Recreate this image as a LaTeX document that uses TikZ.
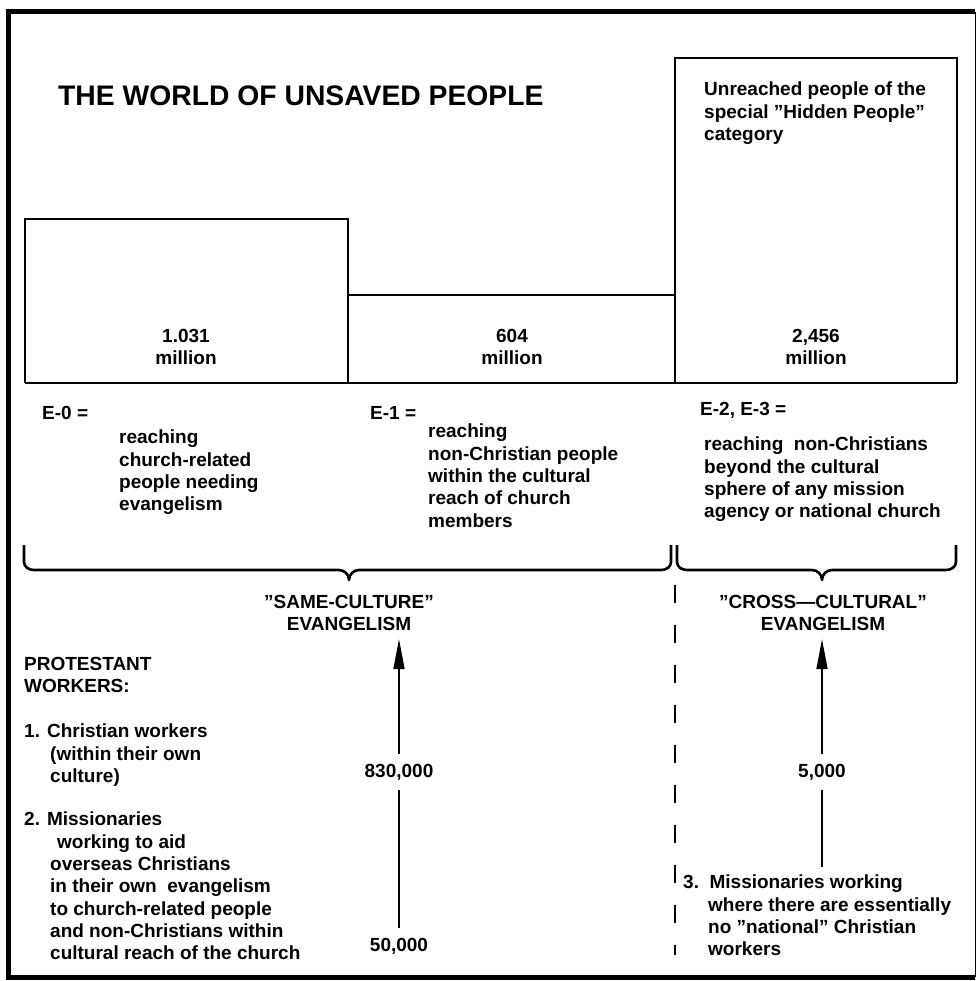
\documentclass[tikz,border=0pt]{standalone}
\usepackage{fontspec}
\setmainfont{Liberation Sans}
\usetikzlibrary{arrows.meta,positioning}

\begin{document}
\begin{tikzpicture}[
    x=1pt, y=-1pt,
    frame/.style={line width=5pt},
    bar/.style={line width=2.6pt},
    txt/.style={font=\fontsize{19}{22.3}\selectfont\bfseries, inner sep=0pt, align=left},
    num/.style={txt, align=center},
    brace/.style={line width=2.6pt, line join=round},
    upline/.style={line width=1.6pt, -{Triangle[length=30pt,width=11pt]}},
    plainline/.style={line width=1.6pt},
    divider/.style={line width=2pt, dash pattern=on 18pt off 22pt}
]
\useasboundingbox (0,0) rectangle (978,981);

% outer frame
\draw[frame] (975,12) -- (8,12) -- (8,977) -- (975,977);
\draw[line width=1pt] (975,12) -- (975,977);

% title
\node[txt, font=\fontsize{28.3}{32}\selectfont\bfseries, anchor=west] (title) at (58,96) {THE WORLD OF UNSAVED PEOPLE};

% population bars
\draw[bar] (25,383) -- (25,219) -- (348,219) -- (348,383);
\draw[bar] (348,295) -- (675,295);
\draw[bar] (675,383) -- (675,58) -- (957,58) -- (957,383);
\draw[bar] (25,383) -- (957,383);

\node[txt, anchor=north west] (hidden) at (704,82) {Unreached people of the\\special ''Hidden People''\\category};

\node[num] (pop0) at (186,347) {1.031\\million};
\node[num] (pop1) at (512,347) {604\\million};
\node[num] (pop2) at (816,347) {2,456\\million};

% kinds of evangelism
\node[txt, anchor=west] (e0) at (42,413) {E-0 =};
\node[txt, anchor=north west] (e0txt) at (119,430) {reaching\\church-related\\people needing\\evangelism};
\node[txt, anchor=west] (e1) at (370,413) {E-1 =};
\node[txt, anchor=north west] (e1txt) at (428,424) {reaching\\non-Christian people\\within the cultural\\reach of church\\members};
\node[txt, anchor=west] (e2) at (700,410) {E-2, E-3 =};
\node[txt, anchor=north west] (e2txt) at (704,437) {reaching\ \ non-Christians\\beyond the cultural\\sphere of any mission\\agency or national church};

% braces
\draw[brace] (24,545) -- (24,562) to[out=-90,in=180] (34,570) -- (339,570)
    to[out=0,in=90] (349,580) to[out=90,in=180] (359,570) -- (661,570)
    to[out=0,in=-90] (671,562) -- (671,545);
\draw[brace] (677,545) -- (677,562) to[out=-90,in=180] (687,570) -- (812,570)
    to[out=0,in=90] (822,580) to[out=90,in=180] (832,570) -- (946,570)
    to[out=0,in=-90] (956,562) -- (956,545);

\node[num] (same) at (349,613) {''SAME-CULTURE''\\EVANGELISM};
\node[num] (cross) at (823,613) {''CROSS---CULTURAL''\\EVANGELISM};

% divider
\coordinate (dtop) at (675,585);
\coordinate (dbot) at (675,955);
\draw[divider] (dtop) -- (dbot);

% workers
\node[txt, anchor=north west] (prot) at (24,657) {PROTESTANT\\WORKERS:};
\node[txt, anchor=north west] (w1) at (24,724) {1. Christian workers\\\hspace*{26pt}(within their own\\\hspace*{26pt}culture)};
\node[txt, anchor=north west] (w2) at (24,812) {2. Missionaries\\\hspace*{33pt}working to aid\\\hspace*{26pt}overseas Christians\\\hspace*{26pt}in their own\ \ evangelism\\\hspace*{26pt}to church-related people\\\hspace*{26pt}and non-Christians within\\\hspace*{26pt}cultural reach of the church};
\node[txt, anchor=north west] (w3) at (683,875) {3.\ \ Missionaries working\\\hspace*{25pt}where there are essentially\\\hspace*{25pt}no ''national'' Christian\\\hspace*{25pt}workers};

\node[num, inner sep=10pt] (n830) at (399,772) {830,000};
\node[num, inner sep=10pt] (n50) at (399,946) {50,000};
\node[num, inner sep=10pt] (n5) at (822,772) {5,000};

\draw[plainline] (n50) -- (n830);
\draw[upline] (n830) -- ([yshift=-8pt]same.south -| n830);
\draw[upline] (n5) -- ([yshift=-8pt]cross.south -| n5);
\draw[plainline] (n5) -- ([yshift=8pt]w3.north -| n5);

\end{tikzpicture}
\end{document}
